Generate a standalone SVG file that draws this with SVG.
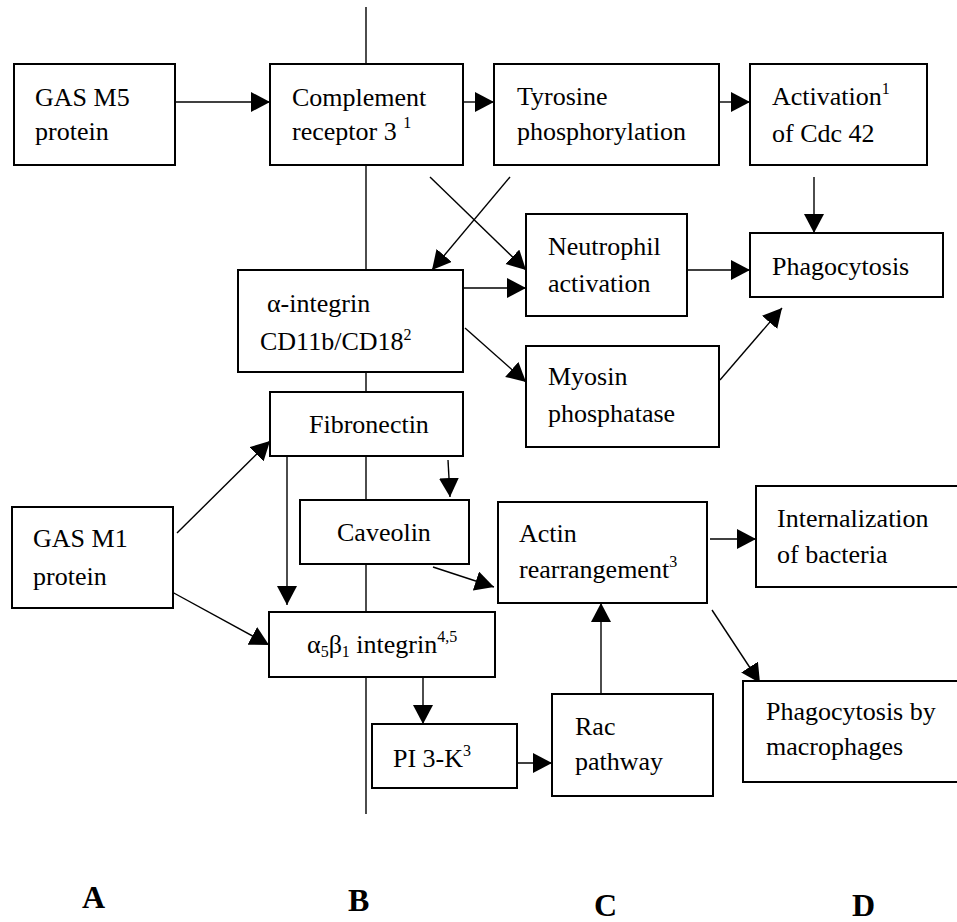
<svg xmlns="http://www.w3.org/2000/svg" width="957" height="922" viewBox="0 0 957 922">
<style>
.box{fill:#fff;stroke:#000;stroke-width:2}
.t{font-family:"Liberation Serif","Times New Roman",serif;font-size:26px;fill:#000}
.s{font-size:16px}
.lbl{font-family:"Liberation Serif","Times New Roman",serif;font-size:32px;font-weight:bold;fill:#000}
.c line{stroke:#000;stroke-width:1.4;fill:none}
.c line.a{marker-end:url(#ah)}
</style>
<defs>
<marker id="ah" markerUnits="userSpaceOnUse" markerWidth="20" markerHeight="21" refX="19" refY="10" orient="auto">
<path d="M0,0 L19,10 L0,20 z" fill="#000"/>
</marker>
</defs>
<rect width="957" height="922" fill="#fff"/>
<g class="c" id="connectors">
<line x1="366" y1="7" x2="366" y2="814"/>
<line class="a" x1="175" y1="102" x2="270" y2="102"/>
<line class="a" x1="463" y1="102" x2="494" y2="102"/>
<line class="a" x1="719" y1="102" x2="750" y2="102"/>
<line class="a" x1="814" y1="177" x2="814" y2="233"/>
<line class="a" x1="430" y1="177" x2="526" y2="270"/>
<line class="a" x1="510" y1="177" x2="432" y2="270"/>
<line class="a" x1="463" y1="288" x2="526" y2="288"/>
<line class="a" x1="465" y1="328" x2="526" y2="382"/>
<line class="a" x1="687" y1="270" x2="750" y2="270"/>
<line class="a" x1="720" y1="380" x2="782" y2="308"/>
<line class="a" x1="177" y1="533" x2="270" y2="441"/>
<line class="a" x1="172" y1="592" x2="269" y2="645"/>
<line class="a" x1="287" y1="456" x2="287" y2="605"/>
<line class="a" x1="448" y1="460" x2="450" y2="497"/>
<line class="a" x1="433" y1="567" x2="494" y2="587"/>
<line class="a" x1="423" y1="677" x2="423" y2="724"/>
<line class="a" x1="517" y1="763" x2="552" y2="763"/>
<line class="a" x1="601" y1="694" x2="601" y2="603"/>
<line class="a" x1="710" y1="539" x2="756" y2="539"/>
<line class="a" x1="712" y1="610" x2="760" y2="683"/>
</g>
<g id="gasm5"><rect class="box" x="14" y="64" width="161" height="101"/><text class="t" x="35" y="106">GAS M5</text><text class="t" x="35" y="140">protein</text></g>
<g id="cr3"><rect class="box" x="270" y="64" width="193" height="101"/><text class="t" x="292" y="106">Complement</text><text class="t" x="292" y="140">receptor 3 <tspan class="s" dy="-12">1</tspan></text></g>
<g id="tyr"><rect class="box" x="494" y="64" width="225" height="101"/><text class="t" x="517" y="105">Tyrosine</text><text class="t" x="517" y="140">phosphorylation</text></g>
<g id="cdc42"><rect class="box" x="750" y="64" width="177" height="101"/><text class="t" x="772" y="105">Activation<tspan class="s" dy="-11">1</tspan></text><text class="t" x="772" y="142">of Cdc 42</text></g>
<g id="neutro"><rect class="box" x="526" y="214" width="161" height="102"/><text class="t" x="548" y="255">Neutrophil</text><text class="t" x="548" y="292">activation</text></g>
<g id="phago"><rect class="box" x="750" y="233" width="193" height="64"/><text class="t" x="772" y="275">Phagocytosis</text></g>
<g id="aint"><rect class="box" x="238" y="270" width="225" height="102"/><text class="t" x="267" y="312">α-integrin</text><text class="t" x="260" y="350">CD11b/CD18<tspan class="s" dy="-10">2</tspan></text></g>
<g id="myosin"><rect class="box" x="526" y="346" width="193" height="101"/><text class="t" x="548" y="385">Myosin</text><text class="t" x="548" y="422">phosphatase</text></g>
<g id="fibro"><rect class="box" x="270" y="392" width="193" height="64"/><text class="t" x="309" y="433">Fibronectin</text></g>
<g id="gasm1"><rect class="box" x="12" y="507" width="161" height="101"/><text class="t" x="33" y="547">GAS M1</text><text class="t" x="33" y="585">protein</text></g>
<g id="caveolin"><rect class="box" x="300" y="500" width="169" height="64"/><text class="t" x="337" y="541">Caveolin</text></g>
<g id="actin"><rect class="box" x="498" y="502" width="209" height="101"/><text class="t" x="519" y="542">Actin</text><text class="t" x="519" y="578">rearrangement<tspan class="s" dy="-11">3</tspan></text></g>
<g id="intern"><rect class="box" x="756" y="486" width="210" height="101"/><text class="t" x="777" y="527">Internalization</text><text class="t" x="777" y="563">of bacteria</text></g>
<g id="a5b1"><rect class="box" x="269" y="612" width="226" height="65"/><text class="t" x="307" y="653">α<tspan class="s" dy="4">5</tspan><tspan dy="-4">β</tspan><tspan class="s" dy="4">1</tspan><tspan dy="-4"> integrin</tspan><tspan class="s" dy="-11">4,5</tspan></text></g>
<g id="pi3k"><rect class="box" x="372" y="724" width="145" height="64"/><text class="t" x="393" y="767">PI 3-K<tspan class="s" dy="-11">3</tspan></text></g>
<g id="rac"><rect class="box" x="552" y="694" width="161" height="102"/><text class="t" x="575" y="735">Rac</text><text class="t" x="575" y="770">pathway</text></g>
<g id="phagomac"><rect class="box" x="743" y="681" width="223" height="101"/><text class="t" x="766" y="720">Phagocytosis by</text><text class="t" x="766" y="755">macrophages</text></g>
<g id="labels"><text class="lbl" x="82" y="908">A</text><text class="lbl" x="348" y="911">B</text><text class="lbl" x="594" y="916">C</text><text class="lbl" x="852" y="916">D</text></g>
</svg>
